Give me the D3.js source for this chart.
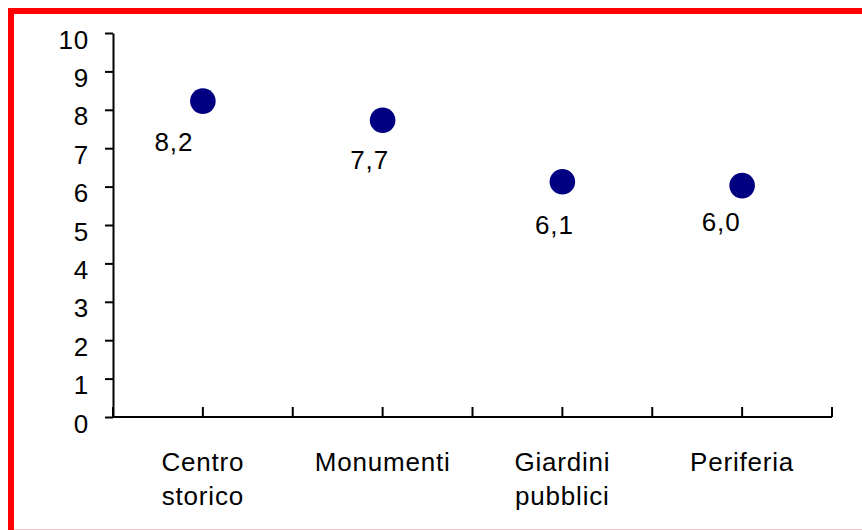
<!DOCTYPE html>
<html>
<head>
<meta charset="utf-8">
<script src="https://cdn.jsdelivr.net/npm/d3@7"></script>
<style>
  html, body { margin: 0; padding: 0; background: #fff; }
  svg { display: block; }
  text { font-family: "Liberation Sans", Arial, sans-serif; fill: #000; letter-spacing: 0.8px; }
</style>
</head>
<body>
<svg id="chart" width="862" height="530"></svg>
<script>
// Average ratings per area of the city
const categories = ["Centro storico", "Monumenti", "Giardini pubblici", "Periferia"];
const values = [8.2, 7.7, 6.1, 6.0];
const yTicks = [0, 1, 2, 3, 4, 5, 6, 7, 8, 9, 10];
// Per-label nudges (dx, dy from the marker) for the value labels
const labelOffsets = [[-29, 49], [-13, 48], [-8, 51], [-21, 44]];

const svg = d3.select("#chart");
const W = 862, H = 530;
const margin = { left: 113, right: 30, top: 33, bottom: 113 };
const FONT = 26;

// Outer red frame
svg.append("rect")
  .attr("x", 11).attr("y", 11)
  .attr("width", W + 20).attr("height", H - 8)
  .attr("fill", "none")
  .attr("stroke", "#ff0000")
  .attr("stroke-width", 6);
svg.append("line")
  .attr("x1", 14).attr("x2", W).attr("y1", 529.5).attr("y2", 529.5)
  .attr("stroke", "#f8c8c8").attr("stroke-width", 1);

const x = d3.scaleBand()
  .domain(categories)
  .range([margin.left, 832])
  .paddingInner(0).paddingOuter(0);

const y = d3.scaleLinear()
  .domain([0, 10])
  .range([417, margin.top]);

// Y axis
const yAxis = d3.axisLeft(y)
  .tickValues(yTicks)
  .tickFormat(d3.format("d"))
  .tickSize(8)
  .tickSizeOuter(0)
  .tickPadding(16);

const gy = svg.append("g")
  .attr("transform", `translate(${margin.left},0)`)
  .call(yAxis);
gy.select(".domain").attr("stroke", "#000").attr("stroke-width", 2);
gy.selectAll(".tick line").attr("stroke", "#000").attr("stroke-width", 2);
gy.selectAll(".tick text")
  .attr("font-size", FONT)
  .attr("dy", "0.58em")
  .style("font-family", "'Liberation Sans', Arial, sans-serif");

// X axis: baseline with inward ticks at band edges and centres
const gx = svg.append("g").attr("class", "x-axis");
gx.append("line")
  .attr("x1", x.range()[0]).attr("x2", x.range()[1])
  .attr("y1", y(0)).attr("y2", y(0))
  .attr("stroke", "#000").attr("stroke-width", 2);

const tickXs = [];
categories.forEach(c => {
  tickXs.push(x(c));
  tickXs.push(x(c) + x.bandwidth() / 2);
});
tickXs.push(x.range()[1]);

gx.selectAll("line.tick")
  .data(tickXs)
  .join("line")
  .attr("class", "tick")
  .attr("x1", d => d).attr("x2", d => d)
  .attr("y1", y(0)).attr("y2", y(0) - 10)
  .attr("stroke", "#000").attr("stroke-width", 2);

// Category labels (wrapped on spaces)
const catLabels = gx.selectAll("text.cat")
  .data(categories)
  .join("text")
  .attr("class", "cat")
  .attr("text-anchor", "middle")
  .attr("font-size", FONT)
  .attr("x", d => x(d) + x.bandwidth() / 2)
  .attr("y", 471);
catLabels.each(function(d) {
  const words = d.split(" ");
  const t = d3.select(this);
  words.forEach((w, i) => {
    t.append("tspan")
      .attr("x", x(d) + x.bandwidth() / 2)
      .attr("dy", i === 0 ? 0 : 34)
      .text(w);
  });
});

// Markers
const cx = d => x(d) + x.bandwidth() / 2;
svg.append("g").selectAll("circle")
  .data(categories)
  .join("circle")
  .attr("cx", d => cx(d))
  .attr("cy", (d, i) => y(values[i]) - 1)
  .attr("r", 12.8)
  .attr("fill", "#000080");

// Value labels (Italian decimal comma)
const fmt = v => v.toFixed(1).replace(".", ",");
svg.append("g").selectAll("text")
  .data(categories)
  .join("text")
  .attr("text-anchor", "middle")
  .attr("font-size", FONT)
  .attr("x", (d, i) => cx(d) + labelOffsets[i][0])
  .attr("y", (d, i) => y(values[i]) + labelOffsets[i][1])
  .text((d, i) => fmt(values[i]));
</script>
</body>
</html>
